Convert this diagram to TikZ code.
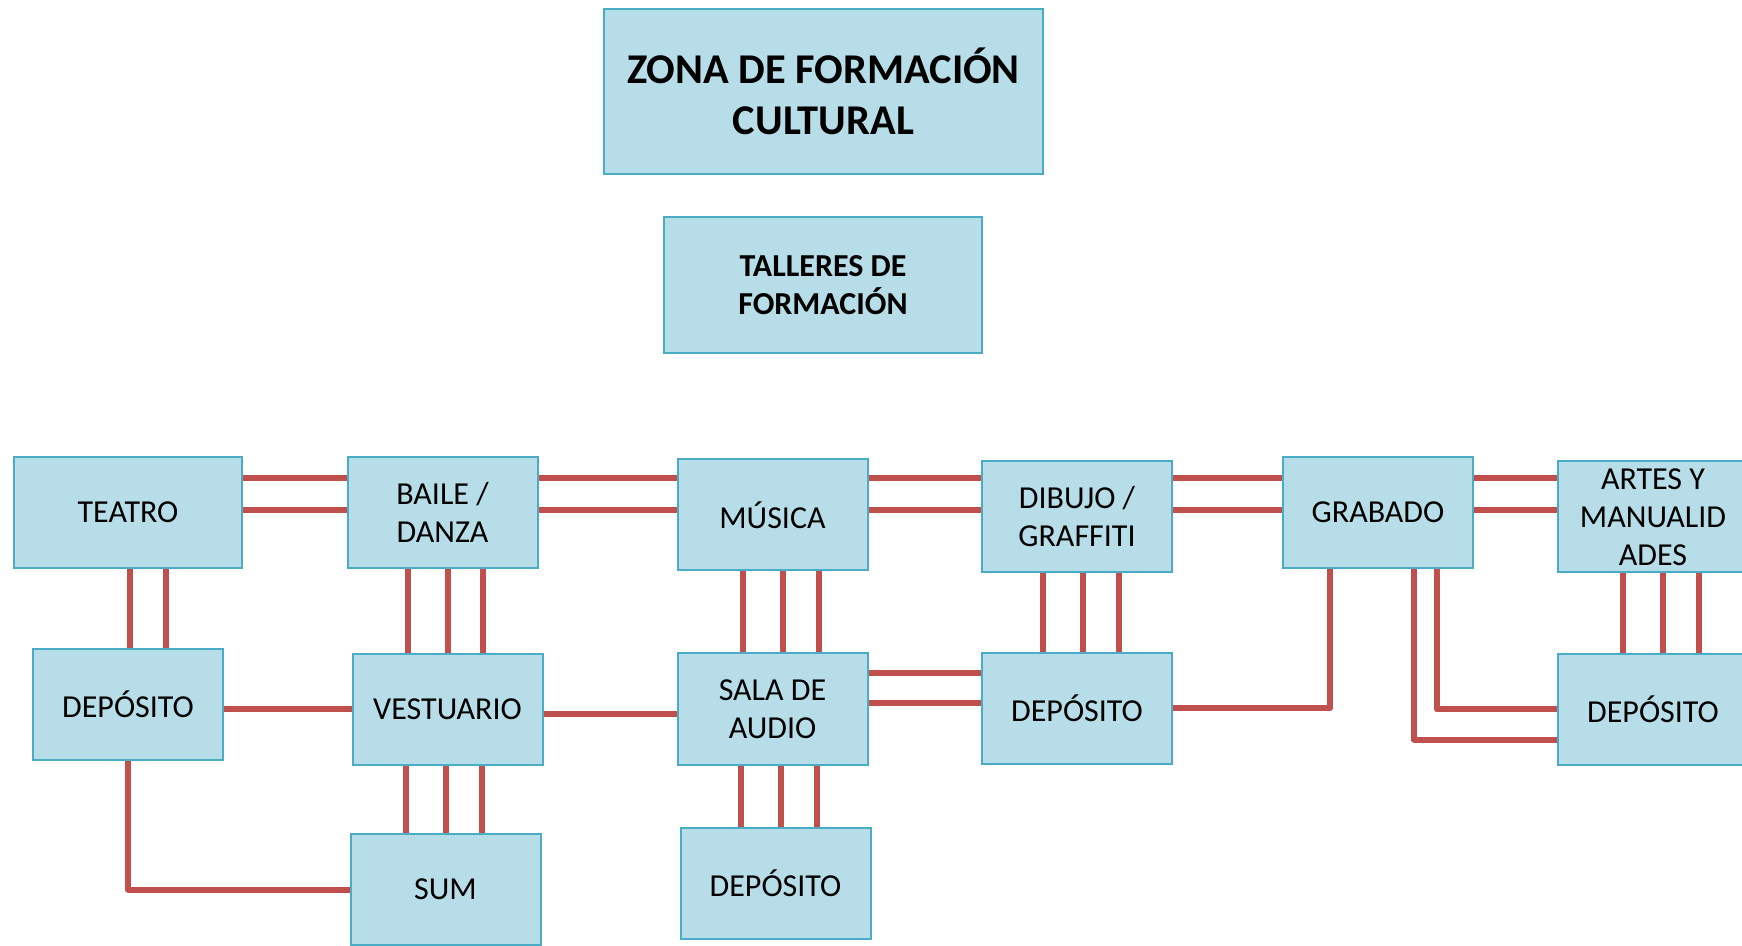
\documentclass[tikz,border=0pt]{standalone}
\usepackage{fontspec}
\setmainfont{Carlito}
\usepackage{xcolor}
\usepackage{tikz}
\usetikzlibrary{calc,positioning}
\definecolor{edgec}{HTML}{4BACC6}
\definecolor{roomc}{HTML}{B7DEE8}
\definecolor{linkc}{HTML}{C0504D}
\tikzset{
  room/.style={draw=edgec,line width=1pt,fill=roomc,align=center,inner sep=2pt,minimum width=95pt,minimum height=55.5pt,font=\fontsize{16}{19}\selectfont},
  hd/.style={room,font=\fontsize{16}{19}\selectfont\bfseries},
  ln/.style={linkc,line width=3pt,line join=round}
}

\begin{document}
\begin{tikzpicture}[x=0.5pt,y=-0.5pt]
\useasboundingbox (0,0) rectangle (1742,946);
\node[hd,minimum width=219.5pt,minimum height=82.5pt,font=\fontsize{21.2}{25.5}\selectfont\bfseries] (zona) at (823.5,91.5) {ZONA DE FORMACIÓN\\CULTURAL};
\node[hd,minimum width=159pt,minimum height=68pt] (talleres) at (823,285) {TALLERES DE\\FORMACIÓN};
\node[room,minimum width=114pt] (teatro) at (128,512.5) {TEATRO};
\node[room] (baile) at (442.5,512.5) {BAILE /\\DANZA};
\node[room] (musica) at (772.5,515) {MÚSICA};
\node[room] (dibujo) at (1077,517) {DIBUJO /\\GRAFFITI};
\node[room] (grabado) at (1378,512.5) {GRABADO};
\node[room] (artes) at (1653,517) {ARTES Y\\MANUALID\\ADES};
\node[room] (depA) at (128,704.5) {DEPÓSITO};
\node[room] (vest) at (447.5,709.5) {VESTUARIO};
\node[room] (sala) at (772.5,709) {SALA DE\\AUDIO};
\node[room] (depC) at (1077,708.5) {DEPÓSITO};
\node[room] (depD) at (1653,709.5) {DEPÓSITO};
\node[room] (sum) at (445.5,889.5) {SUM};
\node[room] (depB) at (775.5,883.5) {DEPÓSITO};
\foreach \a/\b in {teatro/baile,baile/musica,musica/dibujo,dibujo/grabado,grabado/artes}{
 \draw[ln] (\a.east |- 0,478) -- (\b.west |- 0,478);
 \draw[ln] (\a.east |- 0,510) -- (\b.west |- 0,510);}
\foreach \a/\b/\x in {teatro/depA/130,teatro/depA/166,baile/vest/408,baile/vest/448,baile/vest/483,vest/sum/406,vest/sum/446,vest/sum/482,musica/sala/743,musica/sala/783,musica/sala/819,sala/depB/741,sala/depB/781,sala/depB/817,dibujo/depC/1043,dibujo/depC/1083,dibujo/depC/1119,artes/depD/1623,artes/depD/1663,artes/depD/1699}
 \draw[ln] (\x,0 |- \a.south) -- (\x,0 |- \b.north);
\draw[ln] (depA.east |- 0,709) -- (vest.west |- 0,709);
\draw[ln] (vest.east |- 0,714) -- (sala.west |- 0,714);
\draw[ln] (sala.east |- 0,673) -- (depC.west |- 0,673);
\draw[ln] (sala.east |- 0,703) -- (depC.west |- 0,703);
\draw[ln] (depA.south) |- (sum.west);
\draw[ln] (depC.east) -| ([xshift=-24pt]grabado.south);
\draw[ln] ([xshift=29.5pt]grabado.south) |- (depD.west);
\draw[ln] ([xshift=18pt]grabado.south) |- ([yshift=-15pt]depD.west);
\end{tikzpicture}
\end{document}
